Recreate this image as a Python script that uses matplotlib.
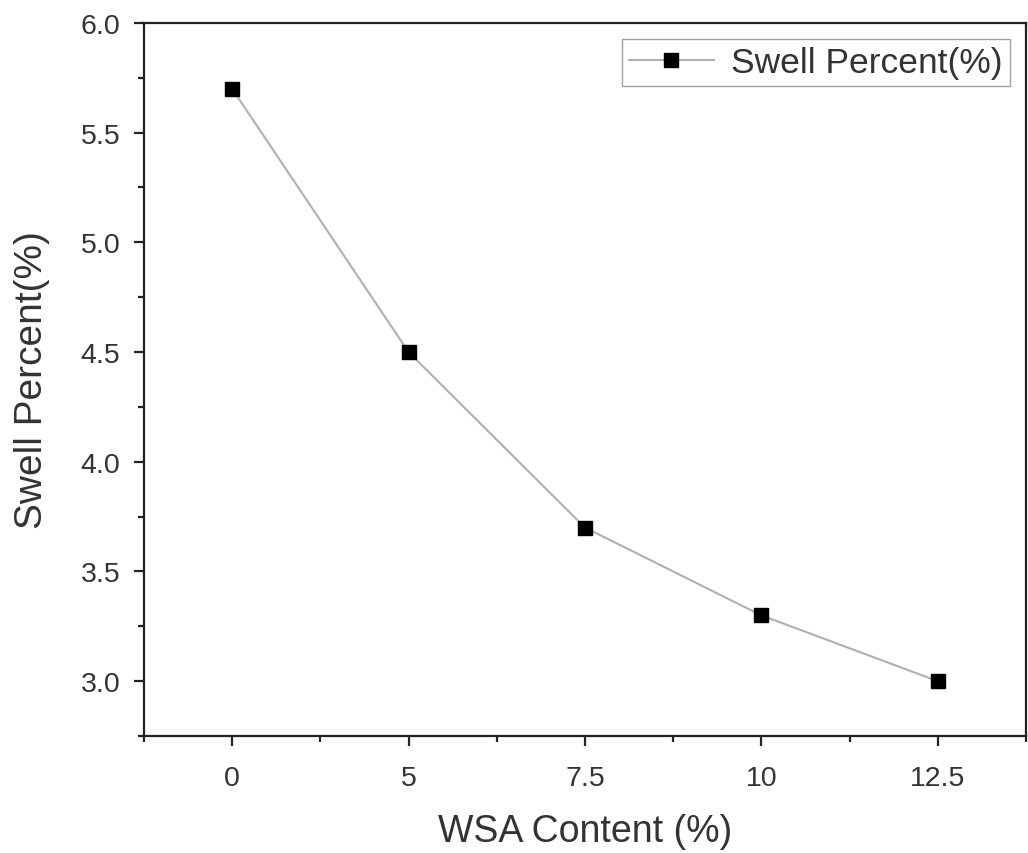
import matplotlib
matplotlib.use("Agg")
import matplotlib.pyplot as plt
from matplotlib.ticker import MultipleLocator

categories = ["0", "5", "7.5", "10", "12.5"]
swell = [5.7, 4.5, 3.7, 3.3, 3.0]

plt.rcParams['font.family'] = ['Liberation Sans', 'DejaVu Sans']

fig = plt.figure(figsize=(10.28, 8.54), dpi=100)
ax = fig.add_axes([0.140, 0.137, 0.858, 0.835])

pos = list(range(len(categories)))
ax.plot(pos, swell, color='#b0b0b0', lw=1.5, marker='s', markersize=10.5,
        markerfacecolor='black', markeredgecolor='black', label='Swell Percent(%)')

ax.set_xlim(-0.5, len(categories) - 0.5)
ax.set_ylim(2.75, 6.0)
ax.set_xticks(pos)
ax.set_xticklabels(categories)
ax.xaxis.set_minor_locator(MultipleLocator(0.5))
ax.yaxis.set_major_locator(MultipleLocator(0.5))
ax.yaxis.set_minor_locator(MultipleLocator(0.25))
ax.yaxis.set_major_formatter(matplotlib.ticker.FormatStrFormatter('%.1f'))

for s in ax.spines.values():
    s.set_linewidth(1.6)
    s.set_color('#222222')
ax.tick_params(which='major', direction='out', length=7, width=1.6, labelsize=20.5,
               colors='#222222', labelcolor='#333333')
ax.tick_params(axis='x', which='major', pad=14)
ax.tick_params(axis='y', which='major', pad=10)
ax.tick_params(which='minor', direction='out', length=4, width=1.6, colors='#222222')

ax.set_xlabel('WSA Content (%)', fontsize=27, color='#333333', labelpad=16)
ax.set_ylabel('Swell Percent(%)', fontsize=28, color='#333333', labelpad=22)

leg = ax.legend(loc='upper right', fontsize=25.5, frameon=True, fancybox=False,
                edgecolor='#888888', handlelength=2.4, borderaxespad=0.45,
                borderpad=0.2, handletextpad=0.5)
leg.get_frame().set_linewidth(1.0)
for t in leg.get_texts():
    t.set_color('#333333')

fig.savefig('out.png', dpi=100)
